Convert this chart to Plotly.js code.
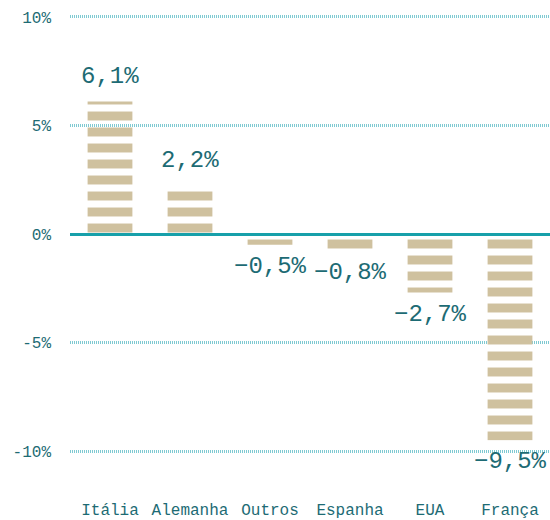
<!DOCTYPE html>
<html>
<head>
<meta charset="utf-8">
<script src="https://cdn.plot.ly/plotly-3.0.1.min.js"></script>
<style>html,body{margin:0;padding:0;background:#fff;}#chart{width:550px;height:520px;}</style>
</head>
<body>
<div id="chart"></div>
<script>
var categories = ['Itália', 'Alemanha', 'Outros', 'Espanha', 'EUA', 'França'];
var values = [6.1, 2.2, -0.5, -0.8, -2.7, -9.5];
var yTickVals = [10, 5, 0, -5, -10];
var yTickText = ['10%', '5%', '0%', '-5%', '-10%'];

var textColor = '#1d6b74';
var barColor = '#cfc19f';
var fontFam = '"Liberation Mono", "DejaVu Sans Mono", monospace';

function fmt(v) {
  return (v < 0 ? '\u2212' : '') + Math.abs(v).toFixed(1).replace('.', ',') + '%';
}

var trace = {
  type: 'bar',
  x: categories,
  y: values,
  marker: {
    color: barColor,
    line: {width: 0},
    pattern: {shape: '-', fgcolor: barColor, bgcolor: 'rgba(0,0,0,0)', size: 16, solidity: 0.56, fillmode: 'replace', fgopacity: 1}
  },
  hoverinfo: 'none'
};

var annotations = categories.map(function (c, i) {
  var v = values[i];
  return {
    x: c, y: v, xref: 'x', yref: 'y',
    text: fmt(v), showarrow: false,
    yanchor: v >= 0 ? 'bottom' : 'top',
    yshift: v >= 0 ? 10 : -6,
    font: {family: fontFam, size: 24, color: textColor}
  };
});

var layout = {
  width: 550, height: 520,
  margin: {l: 70, r: 0, t: 12, b: 30},
  paper_bgcolor: '#fff', plot_bgcolor: '#fff',
  showlegend: false,
  bargap: 0.44,
  xaxis: {
    showgrid: false, zeroline: false, showline: false, ticks: '',
    tickfont: {family: fontFam, size: 16, color: textColor},
    ticklabelstandoff: 8
  },
  yaxis: {
    range: [-11.797, 10.230],
    tickvals: yTickVals, ticktext: yTickText,
    showgrid: true, gridcolor: '#7fcad2', gridwidth: 3, griddash: '1px,1px',
    zeroline: true, zerolinecolor: '#17a0aa', zerolinewidth: 3,
    showline: false, ticks: '',
    ticklabelstandoff: 18,
    tickfont: {family: fontFam, size: 16, color: textColor}
  },
  annotations: annotations
};

Plotly.newPlot('chart', [trace], layout, {displayModeBar: false, staticPlot: true});
</script>
</body>
</html>
